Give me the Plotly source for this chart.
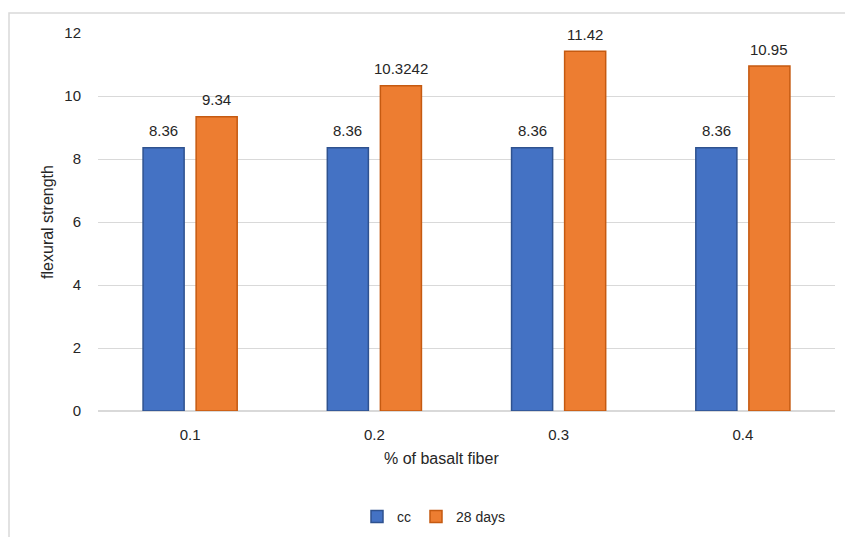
import plotly.graph_objects as go

# Flexural strength by basalt fiber content
categories = ["0.1", "0.2", "0.3", "0.4"]
cc_values = [8.36, 8.36, 8.36, 8.36]
days28_values = [9.34, 10.3242, 11.42, 10.95]
series_names = ["cc", "28 days"]
y_ticks = [0, 2, 4, 6, 8, 10, 12]

W, H = 845, 537
ML, MR, MT, MB = 98, 10, 33, 126
plot_w = W - ML - MR
plot_h = H - MT - MB

FONT = "Liberation Sans"
TXT = "#262626"

fig = go.Figure()
fig.add_trace(go.Bar(
    name=series_names[0], x=categories, y=cc_values,
    marker=dict(color="#4472C4", line=dict(color="#2F528F", width=1.5)),
))
fig.add_trace(go.Bar(
    name=series_names[1], x=categories, y=days28_values,
    marker=dict(color="#ED7D31", line=dict(color="#C55A11", width=1.5)),
))

# value labels above each bar (x given as category index)
bargap, groupgap = 0.424, 0.226
slot_px = plot_w / len(categories) * (1 - bargap) / 2
annotations = []
for vals, dx in ((cc_values, -slot_px / 2), (days28_values, slot_px / 2)):
    for i, v in enumerate(vals):
        annotations.append(dict(
            x=i, y=v, xref="x", yref="y", text=str(v),
            showarrow=False, xshift=dx, yshift=17, yanchor="middle",
            font=dict(family=FONT, size=15, color=TXT),
        ))

# x-axis title
annotations.append(dict(
    x=(441 - ML) / plot_w, y=-(458 - (H - MB)) / plot_h, xref="paper", yref="paper",
    text="% of basalt fiber", showarrow=False, xanchor="center", yanchor="middle",
    font=dict(family=FONT, size=16, color=TXT),
))

# chart frame (top and left edges visible)
fig.add_shape(
    type="rect", xref="paper", yref="paper",
    x0=(9 - ML) / plot_w, x1=(W + 20 - ML) / plot_w,
    y0=-(H + 20 - (H - MB)) / plot_h, y1=((H - MB) - 13) / plot_h,
    line=dict(color="#d9d9d9", width=1.5), fillcolor="rgba(0,0,0,0)", layer="below",
)

fig.update_layout(
    width=W, height=H,
    margin=dict(l=ML, r=MR, t=MT, b=MB, autoexpand=False),
    paper_bgcolor="white", plot_bgcolor="white",
    barmode="group", bargap=bargap, bargroupgap=groupgap,
    font=dict(family=FONT, size=15, color=TXT),
    showlegend=True,
    legend=dict(
        orientation="h", x=(434 - ML) / plot_w, xanchor="center",
        y=-(517 - (H - MB)) / plot_h, yanchor="middle",
        font=dict(family=FONT, size=14, color=TXT),
        itemwidth=30, tracegroupgap=0,
    ),
    annotations=annotations,
    xaxis=dict(
        type="category", automargin=False,
        showgrid=False, showline=False, zeroline=False,
        ticks="outside", ticklen=10, tickcolor="rgba(0,0,0,0)",
        tickfont=dict(family=FONT, size=15, color=TXT),
    ),
    yaxis=dict(
        range=[0, 12], tickvals=y_ticks, automargin=False,
        showgrid=True, gridcolor="#d9d9d9", gridwidth=1,
        zeroline=True, zerolinecolor="#d9d9d9", zerolinewidth=1.5, showline=False,
        ticks="outside", ticklen=13, tickcolor="rgba(0,0,0,0)",
        tickfont=dict(family=FONT, size=15, color=TXT),
        title=dict(text="flexural strength", standoff=6,
                   font=dict(family=FONT, size=16, color=TXT)),
    ),
)

fig.write_html("out.html")
